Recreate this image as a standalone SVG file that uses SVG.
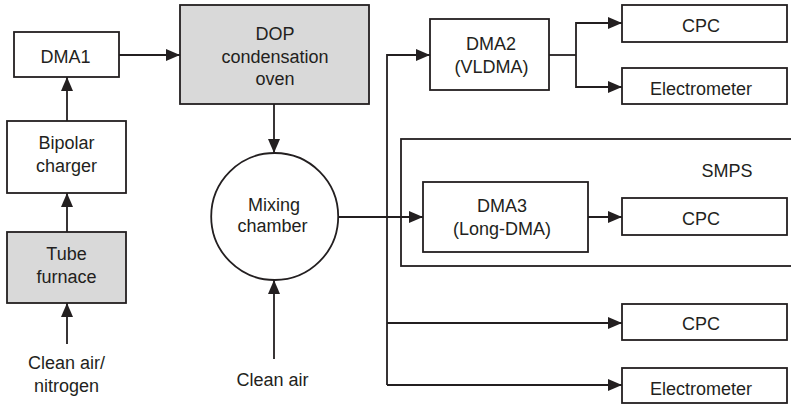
<svg xmlns="http://www.w3.org/2000/svg" width="791" height="405" viewBox="0 0 791 405">
<defs>
<marker id="ah" markerUnits="userSpaceOnUse" markerWidth="14" markerHeight="12" refX="14" refY="6" orient="auto">
<path d="M0,0 L14,6 L0,12 z" fill="#231f20"/>
</marker>
<style>
.box{fill:#fff;stroke:#231f20;stroke-width:1.8}
.gray{fill:#d9d9d9;stroke:#231f20;stroke-width:1.8}
.t{font-family:"Liberation Sans",Arial,sans-serif;font-size:18px;fill:#231f20;text-anchor:middle}
.c{fill:none;stroke:#231f20;stroke-width:1.8}
.a{marker-end:url(#ah)}
</style>
</defs>
<rect width="791" height="405" fill="#fff"/>

<g id="smps">
<rect x="401" y="139" width="400" height="127" class="box"/>
<text x="727" y="177" class="t">SMPS</text>
</g>

<g id="connectors">
<line x1="67" y1="344" x2="67" y2="303" class="c a"/>
<line x1="67" y1="232" x2="67" y2="193" class="c a"/>
<line x1="67" y1="121" x2="67" y2="77" class="c a"/>
<line x1="119" y1="55" x2="180" y2="55" class="c a"/>
<line x1="274" y1="104" x2="274" y2="153" class="c a"/>
<line x1="274" y1="359" x2="274" y2="280" class="c a"/>
<line x1="338" y1="217" x2="423" y2="217" class="c a" stroke-width="2.4"/>
<polyline points="387,385 387,55 430,55" class="c a"/>
<line x1="387" y1="323" x2="622" y2="323" class="c a"/>
<line x1="387" y1="385" x2="622" y2="385" class="c a"/>
<line x1="549" y1="55" x2="576" y2="55" class="c"/>
<polyline points="576,55 576,23 622,23" class="c a"/>
<polyline points="576,55 576,87 622,87" class="c a"/>
<line x1="588" y1="217" x2="622" y2="217" class="c a"/>
</g>

<g id="dma1">
<rect x="14" y="32" width="105" height="45" class="box"/>
<text x="65.5" y="63" class="t">DMA1</text>
</g>
<g id="dop">
<rect x="180" y="5" width="189" height="99" class="gray"/>
<text x="275" y="40" class="t">DOP</text>
<text x="275" y="62.5" class="t">condensation</text>
<text x="275" y="85" class="t">oven</text>
</g>
<g id="bipolar">
<rect x="7" y="121" width="119" height="72" class="box"/>
<text x="66.5" y="149" class="t">Bipolar</text>
<text x="66.5" y="171.5" class="t">charger</text>
</g>
<g id="furnace">
<rect x="7" y="232" width="119" height="71" class="gray"/>
<text x="66.5" y="260" class="t">Tube</text>
<text x="66.5" y="282.5" class="t">furnace</text>
</g>
<g id="cleanair1">
<text x="66.5" y="369" class="t">Clean air/</text>
<text x="66.5" y="391.5" class="t">nitrogen</text>
</g>
<g id="mixing">
<circle cx="274.7" cy="216.5" r="63.5" class="box"/>
<text x="274" y="210.5" class="t">Mixing</text>
<text x="272.5" y="231.5" class="t">chamber</text>
</g>
<g id="cleanair2">
<text x="272.5" y="385.5" class="t">Clean air</text>
</g>
<g id="dma2">
<rect x="430" y="19" width="119" height="71" class="box"/>
<text x="491" y="50" class="t">DMA2</text>
<text x="491.5" y="72.5" class="t">(VLDMA)</text>
</g>
<g id="cpc1">
<rect x="622" y="5" width="165" height="37" class="box"/>
<text x="701" y="31.5" class="t">CPC</text>
</g>
<g id="elec1">
<rect x="622" y="68" width="165" height="36" class="box"/>
<text x="701" y="95" class="t">Electrometer</text>
</g>
<g id="dma3">
<rect x="423" y="182" width="165" height="70" class="box"/>
<text x="502" y="212" class="t">DMA3</text>
<text x="502" y="235" class="t">(Long-DMA)</text>
</g>
<g id="cpc2">
<rect x="622" y="198" width="165" height="37" class="box"/>
<text x="701" y="225" class="t">CPC</text>
</g>
<g id="cpc3">
<rect x="622" y="304" width="165" height="36" class="box"/>
<text x="701" y="329.5" class="t">CPC</text>
</g>
<g id="elec2">
<rect x="622" y="368" width="165" height="35" class="box"/>
<text x="701" y="394.5" class="t">Electrometer</text>
</g>
</svg>
